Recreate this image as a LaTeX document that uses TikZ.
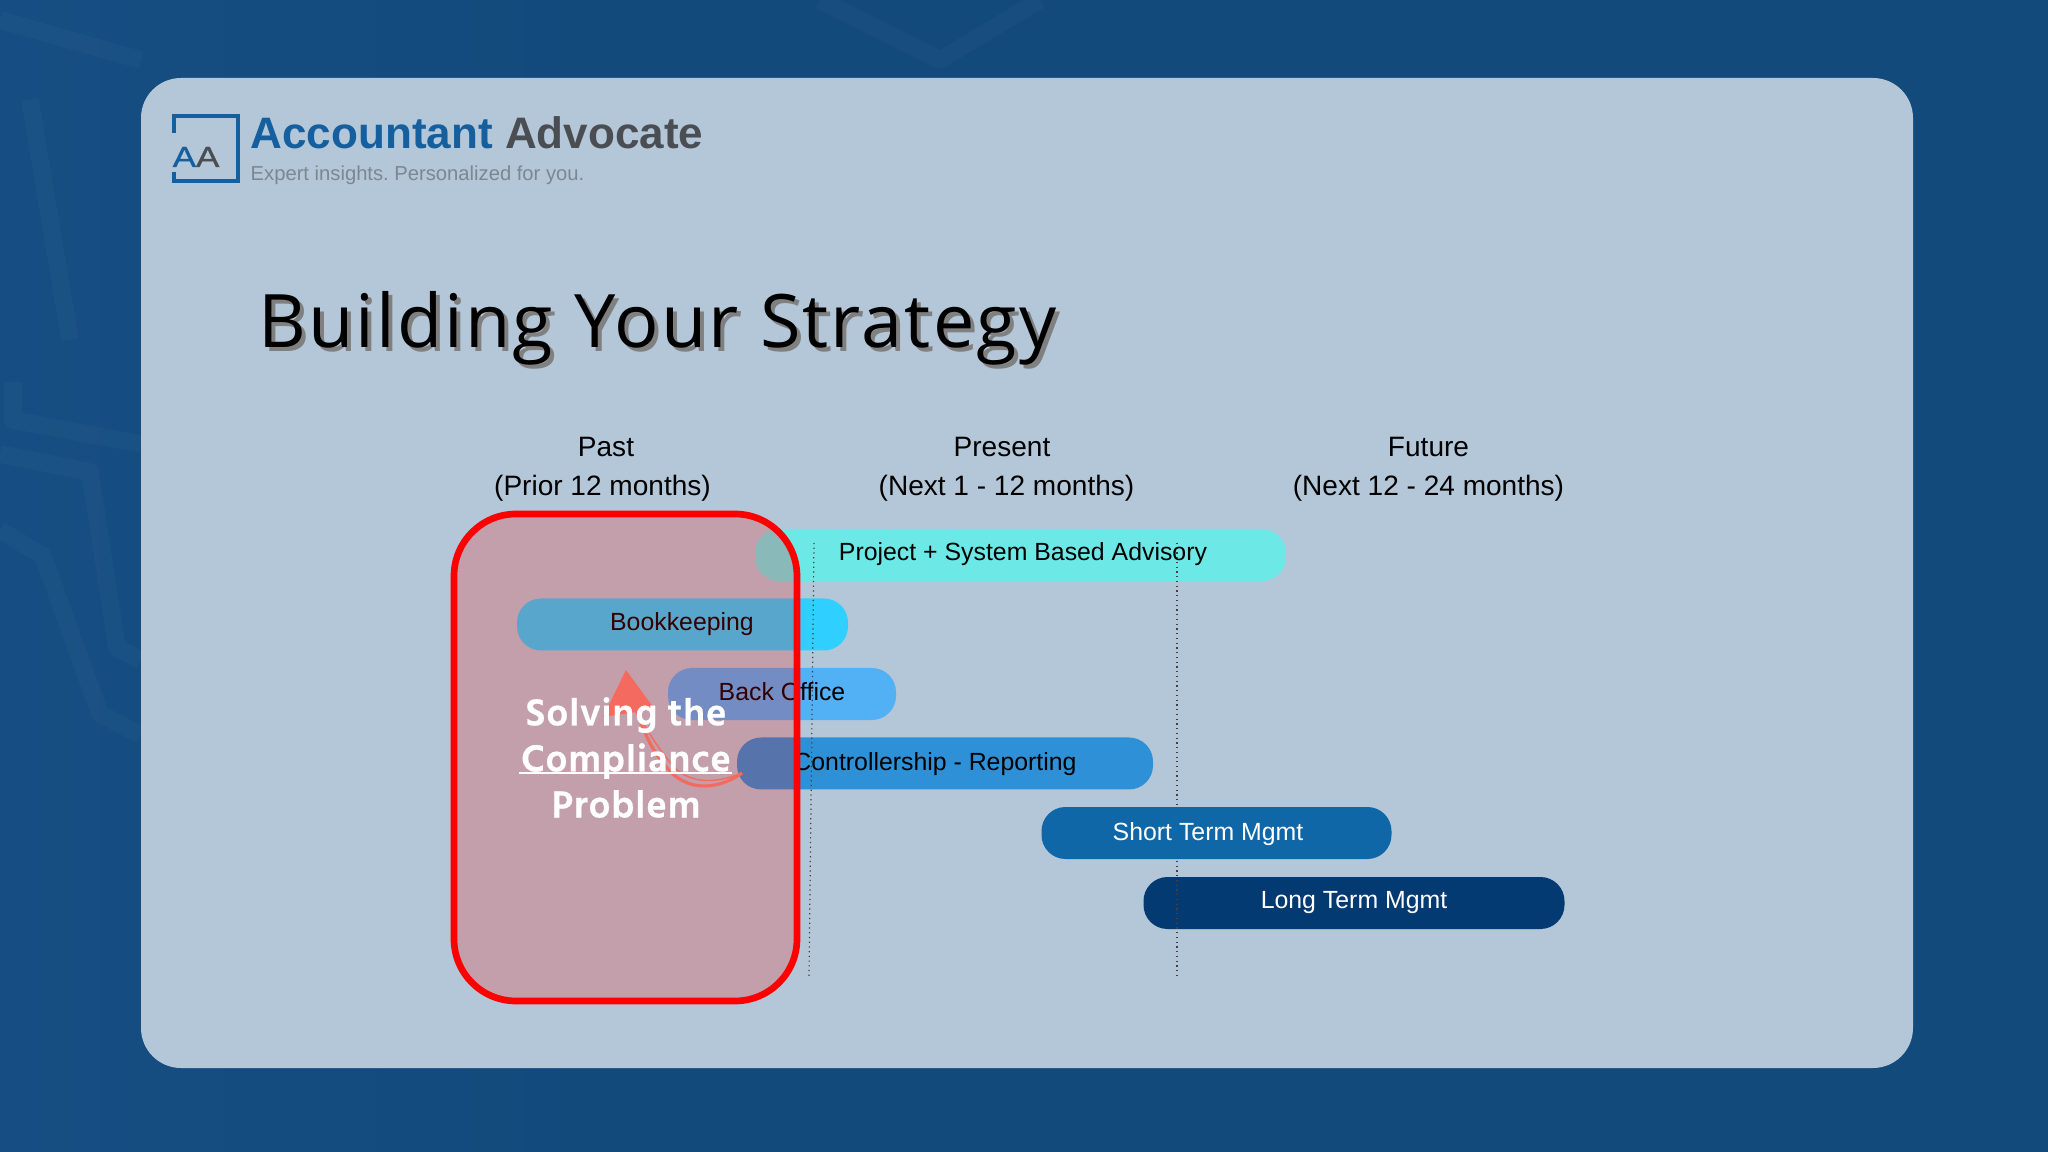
\documentclass[tikz,border=0pt]{standalone}
\usepackage{fontspec}
\setmainfont{Liberation Sans}
\newfontfamily\titlefont[LetterSpace=2.9]{Open Sans}
\newfontfamily\solvefont[LetterSpace=2.5,FakeBold=0.6]{Hind Siliguri}
\newfontfamily\logofont[FakeStretch=1.2,FakeBold=1]{Liberation Sans}
\definecolor{pagecol}{HTML}{134A7C}
\definecolor{pageleft}{HTML}{164E83}
\definecolor{cardcol}{HTML}{B4C7D8}
\definecolor{logoblue}{HTML}{155F9E}
\definecolor{logogrey}{HTML}{4A4D52}
\definecolor{tagcol}{HTML}{7C8790}
\definecolor{projectcol}{HTML}{6CE8E6}
\definecolor{bookcol}{HTML}{2FD0FF}
\definecolor{backcol}{HTML}{52B0F5}
\definecolor{controlcol}{HTML}{2E90D6}
\definecolor{shortcol}{HTML}{0F67A8}
\definecolor{longcol}{HTML}{043A72}
\definecolor{arrowcol}{HTML}{F46A5E}
\tikzset{
	barbox/.style={rounded corners=0.24cm, minimum height=0.52cm, inner sep=0pt},
	barlabel/.style={font=\fontsize{7.07}{8}\selectfont, inner sep=0pt},
	headlabel/.style={font=\fontsize{7.98}{9}\selectfont, inner sep=0pt},
	divider/.style={draw=black!75, line width=0.35pt, densely dotted},
	backband/.style={white, opacity=0.025, line width=5pt, line join=round}
}
\begin{document}
\begin{tikzpicture}[y=-1cm]
	\useasboundingbox (0,0) rectangle (20.48,11.52);
	\shade [left color=pageleft, right color=pagecol] (0,0) rectangle (6,11.52);
	\fill [pagecol] (6,0) rectangle (20.48,11.52);
	%faint texture of the backdrop
	\draw [backband] (0,4.54) -- (0.9,4.72) -- (1.17,6.48) -- (1.41,6.60);
	\draw [backband] (0,5.30) -- (0.43,5.56) -- (1.00,7.14) -- (1.41,7.35);
	\draw [backband] (0.13,3.82) -- (0.13,4.20) -- (1.41,4.44);
	\draw [backband] (0,0.20) -- (1.41,0.60);
	\draw [backband] (0.30,1.00) -- (0.70,3.40);
	\draw [backband] (8.20,0) -- (9.40,0.60) -- (10.40,0);
	\fill [cardcol, rounded corners=0.4cm] (1.41,0.78) rectangle (19.13,10.68);
	%logo
	\coordinate (boxA) at (1.74,1.33);
	\coordinate (boxB) at (1.74,1.16);
	\coordinate (boxC) at (2.38,1.16);
	\coordinate (boxD) at (2.38,1.81);
	\coordinate (boxE) at (1.74,1.81);
	\coordinate (boxF) at (1.74,1.72);
	\draw [logoblue, line width=1.4pt] (boxA) -- (boxB) -- (boxC) -- (boxD) -- (boxE) -- (boxF);
	\node (logoAA) [anchor=base west, inner sep=0pt, font=\logofont\fontsize{8.3}{9}\selectfont] at (1.72,1.67) {\textcolor{logoblue}{A}\textcolor{logogrey}{A}};
	\node (brand) [anchor=base west, inner sep=0pt, font=\fontsize{12.53}{14}\bfseries] at (2.50,1.49) {\textcolor{logoblue}{Accountant} \textcolor{logogrey}{Advocate}};
	\node (tagline) [anchor=base west, inner sep=0pt, text=tagcol, font=\frenchspacing\fontsize{5.75}{7}\selectfont] at (2.50,1.805) {Expert insights. Personalized for you.};
	%title
	\node [anchor=base west, inner sep=0pt, text=black!50, font=\titlefont\fontsize{21}{24}\selectfont] at (2.615,3.52) {Building Your Strategy};
	\node (title) [anchor=base west, inner sep=0pt, text=black, font=\titlefont\fontsize{21}{24}\selectfont] at (2.575,3.48) {Building Your Strategy};
	%column heads
	\node (past) [headlabel] at (6.06,4.47) {Past};
	\node (pastspan) [headlabel] at (6.025,4.885) {(Prior 12 months)};
	\node (present) [headlabel] at (10.02,4.47) {Present};
	\node (presentspan) [headlabel] at (10.065,4.885) {(Next 1 - 12 months)};
	\node (future) [headlabel] at (14.285,4.47) {Future};
	\node (futurespan) [headlabel] at (14.285,4.885) {(Next 12 - 24 months)};
	%bars
	\node (project) [barbox, fill=projectcol, minimum width=5.31cm] at (10.205,5.55) {};
	\node (book) [barbox, fill=bookcol, minimum width=3.31cm] at (6.825,6.245) {};
	\node (back) [barbox, fill=backcol, minimum width=2.28cm] at (7.82,6.94) {};
	\node (control) [barbox, fill=controlcol, minimum width=4.16cm] at (9.45,7.635) {};
	\node (long) [barbox, fill=longcol, minimum width=4.21cm] at (13.54,9.03) {};
	%dividers
	\coordinate (lineAtop) at (8.14,5.43);
	\coordinate (lineAend) at (8.09,9.79);
	\coordinate (lineBtop) at (11.77,5.43);
	\coordinate (lineBend) at (11.77,9.79);
	\draw [divider] (lineAtop) -- (lineAend);
	\draw [divider] (lineBtop) -- (lineBend);
	\node (short) [barbox, fill=shortcol, minimum width=3.50cm] at (12.165,8.33) {};
	\node (projecttext) [barlabel] at (10.23,5.545) {Project + System Based Advisory};
	\node (booktext) [barlabel] at (6.82,6.24) {Bookkeeping};
	\node (backtext) [barlabel] at (7.82,6.92) {Back Office};
	\node (controltext) [barlabel] at (9.35,7.64) {Controllership - Reporting};
	\node (shorttext) [barlabel, text=white] at (12.08,8.345) {Short Term Mgmt};
	\node (longtext) [barlabel, text=white] at (13.54,9.025) {Long Term Mgmt};
	%red frame over the past column
	\draw [red, line width=1.9pt, fill=red, fill opacity=0.2, rounded corners=0.62cm] (4.54,5.14) rectangle (7.97,10.01);
	%hand drawn arrow
	\coordinate (tail) at (7.42,7.73);
	\coordinate (tip) at (6.26,6.70);
	\coordinate (wingA) at (6.03,7.17);
	\coordinate (wingB) at (6.53,7.07);
	\coordinate (neck) at (6.37,7.12);
	\fill [arrowcol] (tip) -- (wingB) -- (neck) -- (wingA) -- cycle;
	\draw [arrowcol, line width=0.9pt] (tail) .. controls (7.15,7.92) and (6.85,7.90) .. (6.67,7.68) .. controls (6.52,7.50) and (6.45,7.35) .. (neck);
	\draw [arrowcol, line width=0.4pt] (tail) .. controls (7.15,7.84) and (6.90,7.84) .. (6.73,7.66) .. controls (6.58,7.48) and (6.50,7.35) .. (neck);
	%caption
	\coordinate (underA) at (5.19,7.73);
	\coordinate (underB) at (7.32,7.73);
	\node (solving) [align=center, inner sep=0pt, text=white, font=\solvefont\fontsize{11}{13.1}\bfseries] at (6.26,7.575) {Solving the\\Compliance\\Problem};
	\draw [white, line width=0.6pt] (underA) -- (underB);
\end{tikzpicture}
\end{document}
